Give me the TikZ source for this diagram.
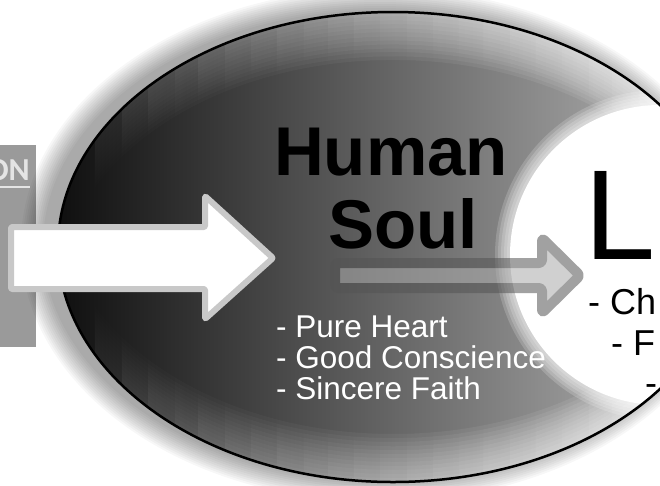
\documentclass[tikz,border=0pt]{standalone}
\usepackage{fontspec}
\setmainfont{Liberation Sans}
\newfontfamily\tagfont{Carlito}
\usetikzlibrary{fadings}
\definecolor{txt}{HTML}{000000}
\definecolor{boxF}{HTML}{9A9A9A}
\definecolor{boxT}{HTML}{E4E4E4}
\definecolor{arB}{HTML}{C8C8C8}
\definecolor{trF}{HTML}{ABABAB}
\definecolor{trB}{HTML}{545454}

\tikzfading[name=glowright,left color=transparent!100,middle color=transparent!80,right color=transparent!0]

\begin{document}
\begin{tikzpicture}[
  x=1pt,y=-1pt,
  soulfill/.style={left color=black!94,right color=black!26},
  bigarrow/.style={fill=white,draw=arB,line width=6pt,line join=round,rounded corners=1pt},
  passarrow/.style={fill=trF,draw=trB,line width=10pt,line join=round,rounded corners=3pt},
  sidetag/.style={font=\tagfont\bfseries\fontsize{32}{32}\selectfont,text=boxT,inner sep=0pt,anchor=base east},
  soulhead/.style={font=\bfseries\fontsize{69}{69}\selectfont,text=txt,inner sep=0pt,anchor=base},
  soullist/.style={font=\fontsize{31.5}{31.5}\selectfont,text=white,inner sep=0pt,anchor=base west},
  lifebig/.style={font=\fontsize{128}{128}\selectfont,text=txt,inner sep=0pt,anchor=base west},
  lifelist/.style={font=\fontsize{36}{36}\selectfont,text=txt,inner sep=0pt,anchor=base west},
  ]
\useasboundingbox (0,0) rectangle (660,485);
\clip (0,0) rectangle (660,485);
\fill[white] (0,0) rectangle (660,485);

% ---- left panel ----
\fill[boxF] (0,145) rectangle (36,347);
\node[sidetag] (on) at (30,180) {ON};
\draw[boxT,line width=2pt] ([yshift=-7pt]on.base west) -- ([yshift=-7pt]on.base east);

% ---- soul ellipse ----
\foreach \k in {1,...,12}
  \fill[black,opacity=0.03] (380,245) ellipse ({335+2*\k} and {233+2*\k});
\fill[soulfill] (393,247) ellipse (335 and 235);
\begin{scope}
  \clip (393,247) ellipse (335 and 235);
  \foreach \d in {4,8,...,48}{
    \fill[white,opacity=0.1,path fading=glowright,even odd rule]
      (393,247) ellipse (335 and 235) (393,247+\d) ellipse (335 and 235);
    \fill[white,opacity=0.1,path fading=glowright,even odd rule]
      (393,247) ellipse (335 and 235) (393,247-\d) ellipse (335 and 235);
  }
  \foreach \k in {1,...,5}
    \fill[white,opacity=0.18] (660,255) circle ({150+3*\k});
  \fill[white] (660,255) circle (150);
\end{scope}
\draw[line width=2.5pt] (393,247) ellipse (335 and 235);

% ---- arrows ----
\draw[bigarrow] (11,227) -- (205,227) -- (205,196) -- (273,258) -- (205,319) -- (205,289) -- (11,289) -- cycle;
\begin{scope}[transparency group,opacity=0.55]
  \draw[passarrow] (335,263) -- (542,263) -- (542,238) -- (580,275.5) -- (542,313) -- (542,288) -- (335,288) -- cycle;
\end{scope}

% ---- texts ----
\node[soulhead] (hm) at (391,175) {Human};
\node[soulhead] (sl) at (403,248) {Soul};
\foreach \t [count=\k] in {Pure Heart,Good Conscience,Sincere Faith}
  \node[soullist] (q\k) at (276,306+31*\k) {- \t};
\node[lifebig] (lf) at (584,259) {L};
\node[lifelist] (l1) at (588,314) {- Ch};
\node[lifelist] (l2) at (611,355) {- F};
\node[lifelist] (l3) at (645,395) {-};

\end{tikzpicture}
\end{document}
